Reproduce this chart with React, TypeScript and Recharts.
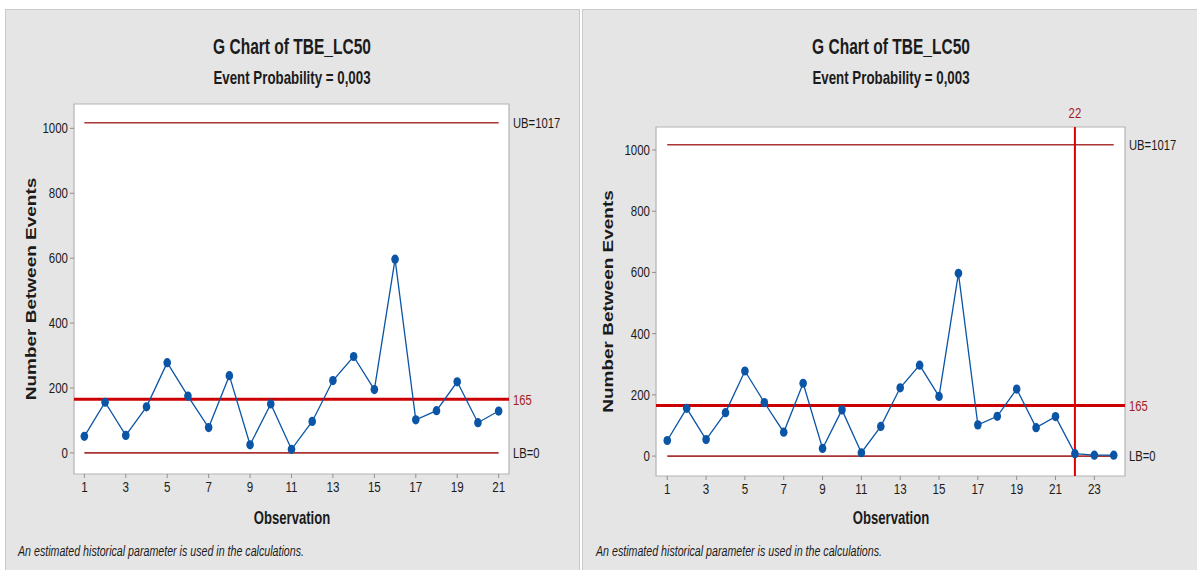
import { LineChart, Line, XAxis, YAxis, ReferenceLine, ReferenceArea } from 'recharts'

const observationsFirst = [1, 2, 3, 4, 5, 6, 7, 8, 9, 10, 11, 12, 13, 14, 15, 16, 17, 18, 19, 20, 21]
const tbeFirst = [51, 156, 54, 142, 278, 175, 78, 238, 25, 151, 11, 97, 223, 297, 195, 597, 102, 130, 219, 93, 129]
const observationsSecond = [1, 2, 3, 4, 5, 6, 7, 8, 9, 10, 11, 12, 13, 14, 15, 16, 17, 18, 19, 20, 21, 22, 23, 24]
const tbeSecond = [51, 156, 54, 142, 278, 175, 78, 238, 25, 151, 11, 97, 223, 297, 195, 597, 102, 130, 219, 93, 129, 8, 3, 3]

const xTicksFirst = [1, 3, 5, 7, 9, 11, 13, 15, 17, 19, 21]
const xTicksSecond = [1, 3, 5, 7, 9, 11, 13, 15, 17, 19, 21, 23]
const yTicks = [0, 200, 400, 600, 800, 1000]

const upperBound = 1017
const centerLine = 165
const lowerBound = 0
const flaggedObservation = 22

const titleText = 'G Chart of TBE_LC50'
const subtitleText = 'Event Probability = 0,003'
const xTitle = 'Observation'
const yTitle = 'Number Between Events'
const footnote = 'An estimated historical parameter is used in the calculations.'

const FONT = "'Liberation Sans', Arial, sans-serif"
const INK = '#1b1b1b'
const DARK_RED = '#a31d1d'
const LIMIT = '#a93434'
const CENTER = '#cc0000'
const BLUE = '#0b55a6'
const PANEL = '#e5e5e5'
const Y_DOMAIN: [number, number] = [-65, 1075]

function XTick(props: any) {
  const { x, y, payload } = props
  return (
    <g transform={`translate(${x},${y})`}>
      <text transform="scale(0.8,1)" textAnchor="middle" dy="0.71em" fontSize={14.5} fill={INK} fontFamily={FONT}>
        {payload.value}
      </text>
    </g>
  )
}

function YTick(props: any) {
  const { x, y, payload } = props
  return (
    <g transform={`translate(${x},${y})`}>
      <text transform="scale(0.82,1)" textAnchor="end" dy="0.355em" fontSize={14} fill={INK} fontFamily={FONT}>
        {payload.value}
      </text>
    </g>
  )
}

const makeSideLabel = (color: string) => (props: any) => {
  const vb = props.viewBox
  if (!vb) return null
  return (
    <g transform={`translate(${vb.x + vb.width + 4},${vb.y})`}>
      <text transform="scale(0.75,1)" dy="0.355em" fontSize={15} fill={color} fontFamily={FONT}>
        {props.value}
      </text>
    </g>
  )
}

const topLabel = (props: any) => {
  const vb = props.viewBox
  if (!vb) return null
  return (
    <g transform={`translate(${vb.x},${vb.y - 9})`}>
      <text transform="scale(0.76,1)" textAnchor="middle" fontSize={15} fill={DARK_RED} fontFamily={FONT}>
        {props.value}
      </text>
    </g>
  )
}

// gap = distance from the plot's left edge back to the centre of the rotated title
const makeAxisTitle = (gap: number) => (props: any) => {
  const vb = props.viewBox
  if (!vb) return null
  const cx = vb.x + vb.width - gap
  const cy = vb.y + vb.height / 2
  return (
    <text
      transform={`translate(${cx},${cy}) rotate(-90) scale(1,0.74)`}
      textAnchor="middle"
      dominantBaseline="central"
      fontSize={19}
      fontWeight="bold"
      fill={INK}
      fontFamily={FONT}
    >
      {props.value}
    </text>
  )
}

const renderDot = (props: any) => (
  <ellipse key={`d${props.index}`} cx={props.cx} cy={props.cy} rx={3.8} ry={4.6} fill={BLUE} />
)

interface PanelProps {
  left: number
  width: number
  margin: { top: number; right: number; bottom: number; left: number }
  obs: number[]
  values: number[]
  xDomain: [number, number]
  xTicks: number[]
  titleGap: number
  flagged?: number
}

function GChart(p: PanelProps) {
  const data = p.obs.map((o, i) => ({ obs: o, tbe: p.values[i] }))
  const last = p.obs[p.obs.length - 1]
  return (
    <div style={{ position: 'absolute', left: p.left, top: 10 }}>
      <LineChart width={p.width} height={560} data={data} margin={p.margin}>
        <XAxis
          type="number" dataKey="obs" domain={p.xDomain} allowDataOverflow
          ticks={p.xTicks} interval={0} tick={<XTick />}
          tickSize={4} tickMargin={4} axisLine={false}
          tickLine={{ stroke: '#8f8f8f' }} height={30}
        />
        <YAxis
          type="number" domain={Y_DOMAIN} allowDataOverflow
          ticks={yTicks} interval={0} tick={<YTick />}
          tickSize={4} tickMargin={2} axisLine={false}
          tickLine={{ stroke: '#8f8f8f' }} width={40}
          label={{ value: yTitle, content: makeAxisTitle(p.titleGap) }}
        />
        <ReferenceArea
          x1={p.xDomain[0]} x2={p.xDomain[1]} y1={Y_DOMAIN[0]} y2={Y_DOMAIN[1]}
          fill="#ffffff" fillOpacity={1} stroke="#b3b3b3" strokeWidth={1.2}
        />
        {/* UB / LB only run across the observations */}
        <ReferenceLine segment={[{ x: 1, y: upperBound }, { x: last, y: upperBound }]} stroke={LIMIT} strokeWidth={1.6} />
        <ReferenceLine segment={[{ x: 1, y: lowerBound }, { x: last, y: lowerBound }]} stroke={LIMIT} strokeWidth={1.6} />
        {/* invisible full-width lines just carry the side labels */}
        <ReferenceLine y={upperBound} stroke="none" label={{ value: `UB=${upperBound}`, content: makeSideLabel(INK) }} />
        <ReferenceLine y={lowerBound} stroke="none" label={{ value: `LB=${lowerBound}`, content: makeSideLabel(INK) }} />
        <ReferenceLine y={centerLine} stroke={CENTER} strokeWidth={3} label={{ value: `${centerLine}`, content: makeSideLabel(DARK_RED) }} />
        {p.flagged != null && (
          <ReferenceLine x={p.flagged} stroke="#e00000" strokeWidth={2} label={{ value: `${p.flagged}`, content: topLabel }} />
        )}
        <Line type="linear" dataKey="tbe" stroke={BLUE} strokeWidth={1.3} dot={renderDot} isAnimationActive={false} />
      </LineChart>
    </div>
  )
}

const centered = (cx: number, cy: number, k: number): React.CSSProperties => ({
  position: 'absolute', left: cx, top: cy, whiteSpace: 'nowrap', lineHeight: 1,
  transform: `translate(-50%,-50%) scaleX(${k})`,
})

function PanelTexts({ cx, noteX }: { cx: number; noteX: number }) {
  return (
    <>
      <div style={{ ...centered(cx, 47, 0.706), fontSize: 22, fontWeight: 'bold', color: INK }}>{titleText}</div>
      <div style={{ ...centered(cx, 77, 0.7), fontSize: 19, fontWeight: 'bold', color: INK }}>{subtitleText}</div>
      <div style={{ ...centered(cx, 517, 0.69), fontSize: 19, fontWeight: 'bold', color: INK }}>{xTitle}</div>
      <div
        style={{
          position: 'absolute', left: noteX, top: 550, whiteSpace: 'nowrap', lineHeight: 1,
          transform: 'translateY(-50%) scaleX(0.71)', transformOrigin: 'left center',
          fontSize: 15, fontStyle: 'italic', color: INK,
        }}
      >
        {footnote}
      </div>
    </>
  )
}

export default function App() {
  return (
    <div style={{ position: 'absolute', left: 0, top: 0, width: 1197, height: 570, background: '#fff', overflow: 'hidden', fontFamily: FONT }}>
      <div style={{ position: 'absolute', left: 5, top: 9, width: 573, height: 580, background: PANEL, border: '1px solid #c9c9c9' }} />
      <div style={{ position: 'absolute', left: 582, top: 9, width: 630, height: 580, background: PANEL, border: '1px solid #c9c9c9' }} />
      <GChart
        left={5} width={575}
        margin={{ top: 94, right: 71, bottom: 66, left: 29 }}
        obs={observationsFirst} values={tbeFirst}
        xDomain={[0.5, 21.5]} xTicks={xTicksFirst} titleGap={43}
      />
      <GChart
        left={582} width={615}
        margin={{ top: 117, right: 72, bottom: 64, left: 34 }}
        obs={observationsSecond} values={tbeSecond}
        xDomain={[0.42, 24.58]} xTicks={xTicksSecond} titleGap={48}
        flagged={flaggedObservation}
      />
      <PanelTexts cx={291.5} noteX={18} />
      <PanelTexts cx={890.5} noteX={596} />
    </div>
  )
}
